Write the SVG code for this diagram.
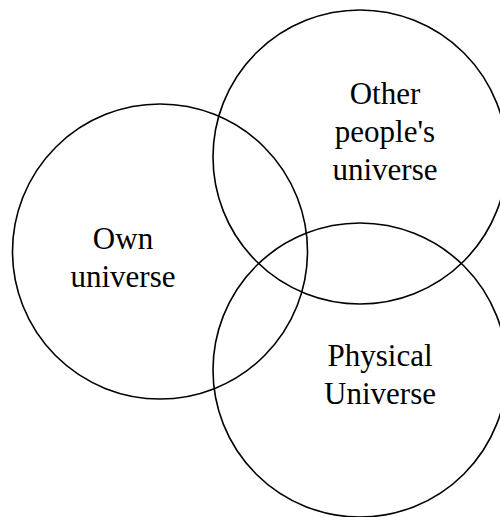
<svg xmlns="http://www.w3.org/2000/svg" width="500" height="517" viewBox="0 0 500 517">
<style>
.c{fill:none;stroke:#000;stroke-width:1.6}
.t{font-family:"Liberation Serif","Times New Roman",serif;font-size:31px;fill:#000;text-anchor:middle}
</style>
<rect width="500" height="517" fill="#fff"/>
<g id="own">
<circle class="c" cx="160" cy="251.5" r="147.5"/>
<text class="t" x="123" y="249">Own</text>
<text class="t" x="123" y="287">universe</text>
</g>
<g id="other">
<circle class="c" cx="360" cy="157" r="147"/>
<text class="t" x="385" y="104">Other</text>
<text class="t" x="385" y="142">people's</text>
<text class="t" x="385" y="180">universe</text>
</g>
<g id="physical">
<circle class="c" cx="360" cy="370" r="147"/>
<text class="t" x="380" y="366">Physical</text>
<text class="t" x="380" y="404">Universe</text>
</g>
<g id="connectors"/>
</svg>
